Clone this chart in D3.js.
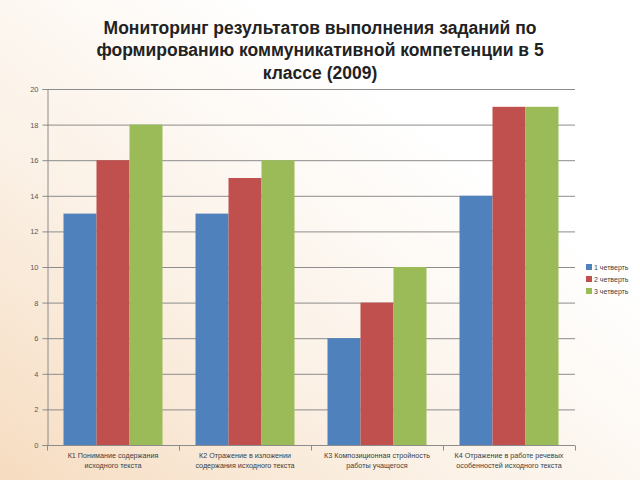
<!DOCTYPE html>
<html><head><meta charset="utf-8">
<script src="https://cdn.jsdelivr.net/npm/d3@7"></script>
<style>html,body{margin:0;padding:0;background:#fff;}svg{display:block;}</style>
</head><body>
<script>
const categories = [
  ["К1 Понимание содержания", "исходного текста"],
  ["К2 Отражение в изложении", "содержания исходного текста"],
  ["К3 Композиционная стройность", "работы учащегося"],
  ["К4 Отражение в работе речевых", "особенностей исходного текста"]
];
const seriesNames = ["1 четверть", "2 четверть", "3 четверть"];
const q1 = [13, 13, 6, 14];
const q2 = [16, 15, 8, 19];
const q3 = [18, 16, 10, 19];
const yTicks = [0, 2, 4, 6, 8, 10, 12, 14, 16, 18, 20];
const colors = ["#4F81BD", "#C0504D", "#9BBB59"];
const titleLines = ["Мониторинг результатов выполнения заданий по", "формированию коммуникативной компетенции в 5", "классе (2009)"];

(function(){
const W = 640, H = 480;
const svg = d3.select("body").append("svg").attr("width", W).attr("height", H);
const defs = svg.append("defs");
const g1 = defs.append("linearGradient").attr("id","bg").attr("x1","0").attr("y1","1").attr("x2","1").attr("y2","0");
g1.append("stop").attr("offset","0").attr("stop-color","#f6dcc0");
g1.append("stop").attr("offset","0.35").attr("stop-color","#fbf1e6");
g1.append("stop").attr("offset","0.7").attr("stop-color","#ffffff");
svg.append("rect").attr("width",W).attr("height",H).attr("fill","url(#bg)");

const mL = 47, mR = 575, mT = 89, mB = 445;
const x0 = d3.scaleBand().domain(d3.range(categories.length)).range([mL, mR]).paddingInner(0.25).paddingOuter(0.125);
const x1 = d3.scaleBand().domain(d3.range(seriesNames.length)).range([0, x0.bandwidth()]);
const y = d3.scaleLinear().domain([0, 20]).range([mB, mT]);

svg.append("g").selectAll("text").data(titleLines).join("text")
  .attr("x", 320).attr("y", (d,i)=>33.5 + i*22.5)
  .attr("text-anchor","middle").attr("font-family","Liberation Sans, Arial, sans-serif")
  .attr("font-weight","bold").attr("font-size",17.5).attr("fill","#222").text(d=>d);

svg.append("g").selectAll("line").data(yTicks.filter(d=>d>0)).join("line")
  .attr("x1", mL).attr("x2", mR).attr("y1", d=>y(d)+0.5).attr("y2", d=>y(d)+0.5)
  .attr("stroke","#8c8c8c").attr("stroke-width",1);

const yAxis = d3.axisLeft(y).tickValues(yTicks).tickSize(5).tickPadding(4);
const ya = svg.append("g").attr("transform",`translate(${mL+0.5},0)`).call(yAxis);
ya.select(".domain").attr("stroke","#8c8c8c");
ya.selectAll(".tick line").attr("stroke","#8c8c8c");
ya.selectAll("text").attr("font-family","Liberation Sans, Arial, sans-serif").attr("font-size",7.5).attr("fill","#595959");

const data = categories.map((c,i)=>[q1[i], q2[i], q3[i]]);
svg.append("g").selectAll("g").data(data).join("g")
  .attr("transform",(d,i)=>`translate(${x0(i)},0)`)
  .selectAll("rect").data(d=>d).join("rect")
  .attr("x",(d,j)=>x1(j)).attr("width",x1.bandwidth())
  .attr("y",d=>y(d)).attr("height",d=>y(0)-y(d)).attr("fill",(d,j)=>colors[j]);

const xa = svg.append("g").attr("transform",`translate(0,${mB+0.5})`);
xa.append("line").attr("x1",mL).attr("x2",mR).attr("stroke","#8c8c8c");
const bounds = d3.range(categories.length+1).map(i=> i<categories.length ? x0(i)-x0.step()*x0.paddingInner()/2 : mR);
xa.selectAll("line.tk").data(bounds).join("line").attr("class","tk")
  .attr("x1",d=>Math.round(d)+0.5).attr("x2",d=>Math.round(d)+0.5).attr("y1",0).attr("y2",5).attr("stroke","#8c8c8c");
const lbl = xa.selectAll("text").data(categories).join("text")
  .attr("text-anchor","middle").attr("font-family","Liberation Sans, Arial, sans-serif")
  .attr("font-size",7.2).attr("fill","#404040");
lbl.each(function(d,i){
  const t = d3.select(this);
  d.forEach((ln,k)=>t.append("tspan").attr("x", x0(i)+x0.bandwidth()/2).attr("y", 12 + k*10.5).text(ln));
});

const lg = svg.append("g").attr("transform","translate(586,264)");
seriesNames.forEach((s,i)=>{
  lg.append("rect").attr("x",0).attr("y",i*12).attr("width",6).attr("height",6).attr("fill",colors[i]);
  lg.append("text").attr("x",8).attr("y",i*12+6).attr("font-family","Liberation Sans, Arial, sans-serif")
    .attr("font-size",7).attr("fill","#404040").text(s);
});
})();
</script>
</body></html>
